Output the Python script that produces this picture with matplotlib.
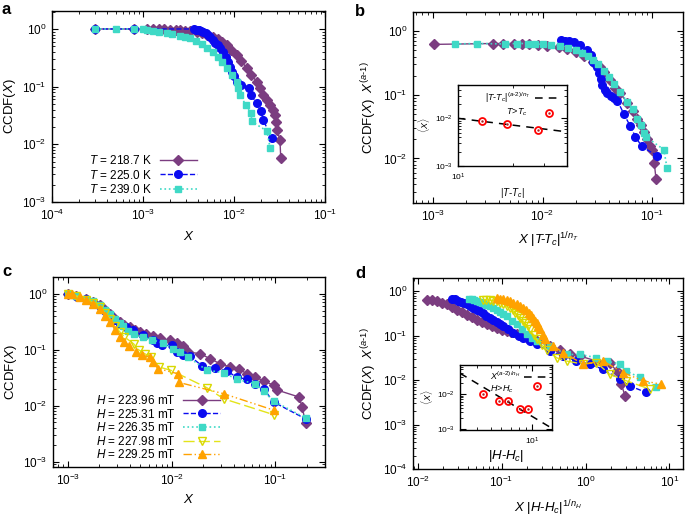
import matplotlib
matplotlib.use("Agg")
import matplotlib.pyplot as plt
from matplotlib.ticker import NullFormatter

plt.rcParams['font.family'] = ['Liberation Sans', 'DejaVu Sans']
plt.rcParams['mathtext.fontset'] = 'custom'
plt.rcParams['mathtext.rm'] = 'Liberation Sans'
plt.rcParams['mathtext.it'] = 'Liberation Sans:italic'
plt.rcParams['mathtext.bf'] = 'Liberation Sans:bold'
plt.rcParams['axes.unicode_minus'] = True

# ---------------- colours ----------------
PURPLE = '#7b3d80'
BLUE = '#0a0af0'
CYAN = '#3fd9c6'
YELLOW = '#e3e41a'
ORANGE = '#ffa200'

# ---------------- panel a data ----------------
a_labels = ['$T$ = 218.7 K', '$T$ = 225.0 K', '$T$ = 239.0 K']
a1_x = [3e-4, 8e-4, 1.1e-3, 1.3e-3, 1.5e-3, 1.7e-3, 2.0e-3, 2.3e-3, 2.55e-3, 2.9e-3, 3.3e-3, 3.9e-3,
        4.4e-3, 5.0e-3, 5.9e-3, 6.6e-3, 7.4e-3, 8.3e-3, 9.3e-3, 1.07e-2, 1.2e-2, 1.38e-2, 1.55e-2,
        1.78e-2, 1.95e-2, 2.1e-2, 2.3e-2, 2.5e-2, 2.7e-2, 2.8e-2, 2.9e-2, 2.95e-2, 3.2e-2, 3.26e-2]
a1_y = [1.0, 1.0, 0.99, 0.99, 0.98, 0.98, 0.97, 0.97, 0.96, 0.94, 0.92, 0.90,
        0.85, 0.80, 0.74, 0.66, 0.60, 0.53, 0.44, 0.355, 0.28, 0.21, 0.16,
        0.122, 0.095, 0.072, 0.058, 0.048, 0.040, 0.032, 0.024, 0.018, 0.012, 0.0059]
a2_x = [3e-4, 8e-4, 3.6e-3, 3.8e-3, 4.0e-3, 4.1e-3, 4.3e-3, 4.6e-3, 4.9e-3, 5.2e-3, 5.5e-3, 5.9e-3,
        6.2e-3, 6.6e-3, 7.0e-3, 7.6e-3, 8.1e-3, 8.6e-3, 9.0e-3, 9.4e-3, 1.0e-2, 1.07e-2, 1.2e-2,
        1.45e-2, 1.52e-2, 1.78e-2, 1.98e-2, 2.1e-2, 2.6e-2]
a2_y = [1.0, 1.0, 1.0, 0.97, 0.96, 0.95, 0.93, 0.90, 0.85, 0.78, 0.72, 0.65,
        0.58, 0.52, 0.47, 0.40, 0.33, 0.27, 0.22, 0.18, 0.15, 0.122, 0.105,
        0.094, 0.072, 0.052, 0.038, 0.026, 0.013]
a3_x = [3e-4, 5e-4, 8e-4, 1.0e-3, 1.1e-3, 1.3e-3, 1.5e-3, 1.82e-3, 2.1e-3, 2.55e-3, 2.9e-3, 3.3e-3,
        3.8e-3, 4.4e-3, 5.1e-3, 5.9e-3, 6.6e-3, 7.4e-3, 8.3e-3, 9.4e-3, 1.07e-2, 1.12e-2, 1.16e-2,
        1.35e-2, 1.55e-2, 1.56e-2, 2.3e-2, 2.5e-2]
a3_y = [1.0, 1.0, 1.0, 1.0, 0.96, 0.93, 0.90, 0.84, 0.81, 0.77, 0.73, 0.69,
        0.62, 0.55, 0.47, 0.40, 0.33, 0.27, 0.21, 0.16, 0.122, 0.095, 0.072,
        0.048, 0.035, 0.025, 0.017, 0.0085]

# ---------------- panel b data ----------------
b1_x = [1.03e-3, 3.5e-3, 4.4e-3, 5.5e-3, 6.5e-3, 7.5e-3, 9e-3, 1.1e-2, 1.4e-2, 1.68e-2, 2.0e-2, 2.4e-2,
        2.9e-2, 3.3e-2, 3.6e-2, 4.15e-2, 4.6e-2, 5.1e-2, 5.9e-2, 6.6e-2, 7.3e-2, 7.8e-2, 8.3e-2,
        9.0e-2, 9.5e-2, 0.100, 0.104, 0.108]
b1_y = [0.62, 0.64, 0.64, 0.64, 0.63, 0.62, 0.61, 0.59, 0.56, 0.52, 0.47, 0.41,
        0.33, 0.27, 0.23, 0.17, 0.13, 0.106, 0.075, 0.055, 0.042, 0.033, 0.026,
        0.020, 0.016, 0.0135, 0.0085, 0.0047]
b2_x = [1.46e-2, 1.6e-2, 1.75e-2, 1.93e-2, 2.2e-2, 2.55e-2, 2.75e-2, 2.9e-2, 3.1e-2, 3.25e-2, 3.4e-2,
        3.5e-2, 3.7e-2, 3.9e-2, 4.2e-2, 4.45e-2, 4.8e-2, 5.5e-2, 6.3e-2, 7.0e-2, 8.0e-2, 0.110]
b2_y = [0.72, 0.71, 0.70, 0.68, 0.60, 0.50, 0.42, 0.33, 0.27, 0.22, 0.18,
        0.143, 0.12, 0.106, 0.095, 0.089, 0.081, 0.050, 0.032, 0.022, 0.0155, 0.011]
b3_x = [1.6e-3, 2.5e-3, 4.5e-3, 5.9e-3, 7.3e-3, 8.5e-3, 1.0e-2, 1.2e-2, 1.45e-2, 1.7e-2, 2.0e-2,
        2.3e-2, 2.6e-2, 2.9e-2, 3.2e-2, 3.6e-2, 4.0e-2, 4.5e-2, 5.1e-2, 5.9e-2, 6.6e-2, 7.3e-2,
        7.8e-2, 8.3e-2, 8.7e-2, 0.127, 0.136]
b3_y = [0.63, 0.64, 0.63, 0.64, 0.64, 0.63, 0.62, 0.60, 0.58, 0.55, 0.51,
        0.46, 0.41, 0.35, 0.30, 0.24, 0.19, 0.15, 0.11, 0.078, 0.060, 0.042,
        0.033, 0.025, 0.022, 0.0138, 0.0071]

# inset b
bi_x = [13.5, 18.7, 27.5, 31.8]
bi_y = [8.8e-3, 7.7e-3, 5.8e-3, 1.28e-2]
bi_fit_x = [10, 40]
bi_fit_y = [1.0e-2, 5.2e-3]

# ---------------- panel c data ----------------
c_labels = ['$H$ = 223.96 mT', '$H$ = 225.31 mT', '$H$ = 226.35 mT', '$H$ = 227.98 mT', '$H$ = 229.25 mT']
c1_x = [1.0e-3, 1.2e-3, 1.5e-3, 1.75e-3, 2.02e-3, 2.3e-3, 2.53e-3, 2.85e-3, 3.16e-3, 3.5e-3, 3.95e-3,
        4.4e-3, 4.94e-3, 5.7e-3, 6.65e-3, 7.7e-3, 9.6e-3, 1.12e-2, 1.3e-2, 1.45e-2, 1.88e-2, 2.35e-2,
        2.94e-2, 3.67e-2, 4.42e-2, 5.3e-2, 6.4e-2, 7.7e-2, 9.6e-2, 0.104, 0.168, 0.181, 0.195]
c1_y = [1.0, 0.92, 0.81, 0.72, 0.62, 0.52, 0.44, 0.36, 0.31, 0.28, 0.254,
        0.23, 0.207, 0.188, 0.173, 0.162, 0.147, 0.133, 0.116, 0.091, 0.085, 0.069,
        0.056, 0.049, 0.046, 0.037, 0.032, 0.028, 0.023, 0.019, 0.0143, 0.0095, 0.0048]
c2_x = [1.0e-3, 1.2e-3, 1.5e-3, 1.75e-3, 2.02e-3, 2.3e-3, 2.53e-3, 2.85e-3, 3.16e-3, 3.6e-3, 4.26e-3,
        5.3e-3, 6.65e-3, 7.2e-3, 8.0e-3, 1.0e-2, 1.12e-2, 1.3e-2, 1.5e-2, 1.95e-2, 2.6e-2, 3.4e-2,
        4.26e-2, 5.3e-2, 6.4e-2, 7.7e-2, 9.6e-2, 0.195]
c2_y = [1.0, 0.92, 0.80, 0.71, 0.61, 0.50, 0.42, 0.34, 0.29, 0.25, 0.221,
        0.18, 0.147, 0.13, 0.12, 0.12, 0.091, 0.082, 0.077, 0.052, 0.047, 0.042,
        0.032, 0.030, 0.0247, 0.020, 0.0116, 0.0058]
c3_x = [1.0e-3, 1.2e-3, 1.5e-3, 1.75e-3, 2.02e-3, 2.3e-3, 2.53e-3, 2.85e-3, 3.16e-3, 3.4e-3, 3.8e-3,
        4.3e-3, 5.3e-3, 6.5e-3, 8.3e-3, 1.04e-2, 1.2e-2, 1.45e-2, 2.18e-2, 3.16e-2, 4.26e-2, 6.4e-2,
        7.7e-2, 9.6e-2, 0.195]
c3_y = [1.0, 0.93, 0.82, 0.73, 0.63, 0.52, 0.43, 0.35, 0.30, 0.27, 0.22,
        0.19, 0.168, 0.15, 0.133, 0.104, 0.090, 0.074, 0.043, 0.039, 0.0295, 0.0247,
        0.018, 0.0121, 0.0060]
c4_x = [1.0e-3, 1.2e-3, 1.5e-3, 1.75e-3, 2.02e-3, 2.3e-3, 2.53e-3, 2.85e-3, 3.16e-3, 3.5e-3, 4.3e-3,
        4.8e-3, 5.5e-3, 6.3e-3, 7.6e-3, 9.8e-3, 2.18e-2, 3.16e-2, 9.6e-2]
c4_y = [1.0, 0.92, 0.79, 0.69, 0.57, 0.45, 0.36, 0.27, 0.21, 0.17, 0.128,
        0.10, 0.085, 0.075, 0.049, 0.043, 0.021, 0.0133, 0.0069]
c5_x = [1.0e-3, 1.1e-3, 1.3e-3, 1.5e-3, 1.75e-3, 2.02e-3, 2.3e-3, 2.53e-3, 2.85e-3, 3.2e-3, 3.5e-3,
        3.9e-3, 4.58e-3, 5.2e-3, 6.2e-3, 6.6e-3, 7.4e-3, 1.16e-2, 1.18e-2, 3.16e-2, 9.64e-2]
c5_y = [1.0, 1.0, 0.88, 0.78, 0.65, 0.53, 0.40, 0.31, 0.23, 0.17, 0.14,
        0.115, 0.091, 0.080, 0.074, 0.060, 0.046, 0.037, 0.026, 0.0164, 0.0083]

# ---------------- panel d data ----------------
d1_x = [1.29e-2, 1.5e-2, 1.7e-2, 1.95e-2, 2.23e-2, 2.6e-2, 2.93e-2, 3.4e-2, 3.85e-2, 4.4e-2, 5.07e-2,
        5.8e-2, 6.67e-2, 7.7e-2, 8.77e-2, 0.1, 0.115, 0.13, 0.151, 0.175, 0.199, 0.23, 0.262, 0.377,
        0.495, 0.651, 0.857, 1.35, 1.95, 2.34, 2.68, 2.94]
d1_y = [0.65, 0.63, 0.60, 0.56, 0.52, 0.45, 0.39, 0.34, 0.30, 0.26, 0.23,
        0.20, 0.18, 0.165, 0.151, 0.138, 0.127, 0.12, 0.111, 0.10, 0.090, 0.083, 0.076, 0.059,
        0.049, 0.038, 0.035, 0.027, 0.025, 0.016, 0.0081, 0.0045]
d2_x = [2.56e-2, 2.8e-2, 3.0e-2, 3.25e-2, 3.52e-2, 3.85e-2, 4.2e-2, 4.6e-2, 5.07e-2, 5.5e-2, 6.0e-2,
        6.6e-2, 7.3e-2, 8.0e-2, 8.7e-2, 9.6e-2, 0.105, 0.12, 0.138, 0.16, 0.182, 0.22, 0.262, 0.377,
        0.543, 0.78, 1.12, 1.62, 2.56, 3.37, 5.3]
d2_y = [0.69, 0.66, 0.62, 0.59, 0.55, 0.51, 0.47, 0.43, 0.39, 0.355, 0.32,
        0.285, 0.25, 0.225, 0.20, 0.18, 0.164, 0.14, 0.117, 0.10, 0.090, 0.075, 0.064, 0.045,
        0.035, 0.027, 0.023, 0.0176, 0.0105, 0.0074, 0.0053]
d3_x = [4.04e-2, 4.4e-2, 4.7e-2, 5.1e-2, 5.56e-2, 6.0e-2, 6.6e-2, 7.3e-2, 8.0e-2, 8.8e-2, 9.6e-2,
        0.105, 0.115, 0.132, 0.151, 0.175, 0.199, 0.23, 0.262, 0.377, 0.594, 0.857, 1.35, 1.78,
        2.56, 3.07, 4.43, 7.0]
d3_y = [0.69, 0.66, 0.63, 0.61, 0.58, 0.54, 0.50, 0.46, 0.42, 0.38, 0.34,
        0.31, 0.275, 0.22, 0.18, 0.14, 0.107, 0.09, 0.076, 0.059, 0.038, 0.038, 0.032, 0.027,
        0.023, 0.016, 0.0115, 0.0069]
d4_x = [6.08e-2, 6.6e-2, 7.2e-2, 8.0e-2, 8.77e-2, 9.6e-2, 0.105, 0.115, 0.126, 0.135, 0.145,
        0.155, 0.166, 0.178, 0.19, 0.204, 0.218, 0.24, 0.262, 0.3, 0.344, 0.453, 0.594, 0.937,
        1.35, 1.95, 3.07, 5.8]
d4_y = [0.65, 0.64, 0.63, 0.62, 0.60, 0.56, 0.52, 0.47, 0.42, 0.375, 0.33,
        0.29, 0.25, 0.22, 0.19, 0.165, 0.139, 0.105, 0.083, 0.062, 0.049, 0.032, 0.027, 0.023,
        0.025, 0.0135, 0.0097, 0.0063]
d5_x = [8.77e-2, 9.6e-2, 0.105, 0.115, 0.126, 0.138, 0.152, 0.166, 0.182, 0.195, 0.21,
        0.225, 0.239, 0.25, 0.262, 0.275, 0.287, 0.31, 0.329, 0.413, 0.543, 0.937, 1.62, 2.8,
        4.84, 8.0]
d5_y = [0.71, 0.69, 0.66, 0.63, 0.60, 0.56, 0.51, 0.47, 0.42, 0.375, 0.33,
        0.29, 0.25, 0.22, 0.19, 0.165, 0.139, 0.105, 0.083, 0.059, 0.042, 0.023, 0.027, 0.0148,
        0.0097, 0.0081]

# inset d
di_x = [4.38, 5.74, 6.73, 8.18, 9.44, 10.9]
di_y = [9.8e-3, 6.4e-3, 6.4e-3, 3.65e-3, 3.65e-3, 1.73e-2]
di_fit_x = [3.0, 14.0]
di_fit_y = [3.9e-2, 1.05e-3]

W, H = 685, 519
fig = plt.figure(figsize=(W / 100, H / 100), dpi=100)


def box(l, t, r, b):
    return [l / W, 1 - b / H, (r - l) / W, (b - t) / H]


def style(ax, fs=8.5):
    ax.set_xscale('log')
    ax.set_yscale('log')
    ax.tick_params(which='both', direction='in', top=True, right=True, labelsize=fs, pad=4)
    ax.tick_params(which='major', length=4, width=0.8)
    ax.tick_params(which='minor', length=2, width=0.6)
    for s in ax.spines.values():
        s.set_linewidth(1.0)


MS = 5.5

# ---------- panel a ----------
ax_a = fig.add_axes(box(52, 11, 325, 202))
style(ax_a)
ax_a.plot(a1_x, a1_y, '-', color=PURPLE, marker='D', ms=MS - 0.7, lw=1, label=a_labels[0])
ax_a.plot(a2_x, a2_y, '--', color=BLUE, marker='o', ms=MS, lw=1, label=a_labels[1])
ax_a.plot(a3_x, a3_y, ':', color=CYAN, marker='s', ms=MS - 0.7, lw=1.2, label=a_labels[2])
ax_a.set_xlim(1e-4, 1e-1)
ax_a.set_ylim(1e-3, 2.05)
ax_a.set_xlabel('$X$', fontsize=9.5, labelpad=5)
ax_a.set_ylabel('CCDF($X$)', fontsize=9.5, labelpad=3)
ax_a.legend(loc='lower left', bbox_to_anchor=(0.12, 0.005), frameon=False, markerfirst=False,
            fontsize=8.5, handlelength=3.2, labelspacing=0.15, borderaxespad=0, handletextpad=0.6)

# ---------- panel b ----------
ax_b = fig.add_axes(box(413, 12, 683, 203))
style(ax_b)
ax_b.plot(b1_x, b1_y, '-', color=PURPLE, marker='D', ms=MS - 0.7, lw=1)
ax_b.plot(b2_x, b2_y, '--', color=BLUE, marker='o', ms=MS, lw=1)
ax_b.plot(b3_x, b3_y, ':', color=CYAN, marker='s', ms=MS - 0.7, lw=1.2)
ax_b.set_xlim(6.6e-4, 0.19)
ax_b.set_ylim(2e-3, 2.0)
ax_b.set_xlabel(r'$X\ |T\!$-$\!T_c|^{1/n_T}$', fontsize=9.5, labelpad=5)
ax_b.set_ylabel(r'CCDF($X$)  $X^{(a\text{-}1)}$', fontsize=9.5, labelpad=3)

ax_bi = fig.add_axes(box(458, 85, 567, 166))
style(ax_bi, fs=6)
ax_bi.plot(bi_fit_x, bi_fit_y, '--', color='black', lw=1.1, dashes=(5, 4),
           label=r'$|T$-$T_c|^{(a\text{-}2)/n_T}$')
ax_bi.plot(bi_x, bi_y, 'o', mfc='none', mec='red', mew=1.3, ms=5, ls='none')
ax_bi.plot(bi_x, bi_y, '.', color='#aa2222', ms=1.5, ls='none')
ax_bi.set_xlim(10, 40)
ax_bi.set_ylim(1e-3, 5e-2)
ax_bi.set_xticks([10])
ax_bi.set_xticklabels([r'$10^1$'])
ax_bi.xaxis.set_minor_formatter(NullFormatter())
ax_bi.tick_params(which='both', labelsize=6)
ax_bi.set_xlabel(r'$|T$-$T_c|$', fontsize=7, labelpad=2)
ax_bi.set_ylabel(r'$\langle X\rangle$', fontsize=6.5, labelpad=2)
ax_bi.legend(loc='upper right', frameon=False, markerfirst=False, fontsize=6.5,
             handlelength=3.0, borderaxespad=0.2, handletextpad=0.4)
ax_bi.text(0.44, 0.66, r'$T\!>\!T_c$', transform=ax_bi.transAxes, fontsize=6.5, va='center')

# ---------- panel c ----------
ax_c = fig.add_axes(box(53, 277, 325, 467))
style(ax_c)
ax_c.plot(c1_x, c1_y, '-', color=PURPLE, marker='D', ms=MS - 0.7, lw=1, label=c_labels[0])
ax_c.plot(c2_x, c2_y, '--', color=BLUE, marker='o', ms=MS, lw=1, label=c_labels[1])
ax_c.plot(c3_x, c3_y, ':', color=CYAN, marker='s', ms=MS - 0.7, lw=1.2, label=c_labels[2])
ax_c.plot(c4_x, c4_y, color=YELLOW, marker='v', mfc='none', mec='#d8d800', ms=MS, lw=1,
          dashes=(8, 3), label=c_labels[3])
ax_c.plot(c5_x, c5_y, color=ORANGE, marker='^', ms=MS, lw=1,
          dashes=(6, 2, 1, 2, 1, 2), label=c_labels[4])
ax_c.set_xlim(7.2e-4, 0.3)
ax_c.set_ylim(8e-4, 2.0)
ax_c.set_xlabel('$X$', fontsize=9.5, labelpad=4)
ax_c.set_ylabel('CCDF($X$)', fontsize=9.5, labelpad=3)
ax_c.legend(loc='lower left', bbox_to_anchor=(0.14, 0.005), frameon=False, markerfirst=False,
            fontsize=8.5, handlelength=3.2, labelspacing=0.05, borderaxespad=0, handletextpad=0.6)

# ---------- panel d ----------
ax_d = fig.add_axes(box(413, 278, 683, 469))
style(ax_d)
ax_d.plot(d1_x, d1_y, '-', color=PURPLE, marker='D', ms=MS - 0.7, lw=1)
ax_d.plot(d2_x, d2_y, '--', color=BLUE, marker='o', ms=MS, lw=1)
ax_d.plot(d3_x, d3_y, ':', color=CYAN, marker='s', ms=MS - 0.7, lw=1.2)
ax_d.plot(d4_x, d4_y, color=YELLOW, marker='v', mfc='none', mec='#d8d800', ms=MS, lw=1, dashes=(8, 3))
ax_d.plot(d5_x, d5_y, color=ORANGE, marker='^', ms=MS, lw=1, dashes=(6, 2, 1, 2, 1, 2))
ax_d.set_xlim(8.8e-3, 14.5)
ax_d.set_ylim(1e-4, 2.0)
ax_d.set_xlabel(r'$X\ |H$-$H_c|^{1/n_H}$', fontsize=9.5, labelpad=6)
ax_d.set_ylabel(r'CCDF($X$)  $X^{(a\text{-}1)}$', fontsize=9.5, labelpad=3)

ax_di = fig.add_axes(box(460, 365, 552, 430))
style(ax_di, fs=6)
ax_di.plot(di_fit_x, di_fit_y, '--', color='black', lw=1.1, dashes=(5, 4),
           label=r'$X^{(a\text{-}2)/n_H}$')
ax_di.plot(di_x, di_y, 'o', mfc='none', mec='red', mew=1.3, ms=5, ls='none')
ax_di.plot(di_x, di_y, '.', color='#aa2222', ms=1.5, ls='none')
ax_di.set_xlim(3, 14)
ax_di.set_ylim(9.4e-4, 6.7e-2)
ax_di.xaxis.set_minor_formatter(NullFormatter())
ax_di.tick_params(which='both', labelsize=6)
ax_di.set_xlabel(r'$|H$-$H_c|$', fontsize=9.5, labelpad=1)
ax_di.set_ylabel(r'$\langle X\rangle$', fontsize=6.5, labelpad=1)
ax_di.legend(loc='upper right', frameon=False, markerfirst=False, fontsize=6.5,
             handlelength=2.6, borderaxespad=0.1, handletextpad=0.4)
ax_di.text(0.33, 0.63, r'$H\!>\!H_c$', transform=ax_di.transAxes, fontsize=6.5, va='center')

# panel letters
for lab, (x, y) in zip('abcd', [(2, 10), (355, 12), (2, 272), (355, 273)]):
    fig.text(x / W, 1 - y / H, lab, fontsize=12, fontweight='bold', va='center', ha='left')

fig.savefig('out.png', dpi=100)
